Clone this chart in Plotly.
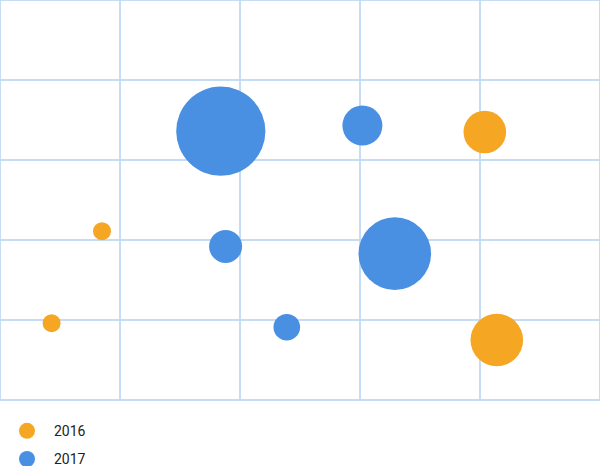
import plotly.graph_objects as go

# bubble data (x, y on a 0-5 grid, r = bubble radius)
x_2016 = [0.43, 0.85, 4.04, 4.14]
y_2016 = [0.96, 2.11, 3.35, 0.75]
r_2016 = [9, 9, 21.3, 26.3]

x_2017 = [1.84, 1.88, 2.39, 3.02, 3.29]
y_2017 = [3.36, 1.92, 0.91, 3.43, 1.83]
r_2017 = [44.6, 16.5, 13.3, 20, 36.3]

grid_color = "#c6dcf5"

fig = go.Figure()

fig.add_trace(go.Scatter(
    x=x_2016, y=y_2016, mode="markers", name="2016",
    legendgroup="a",
    marker=dict(size=r_2016, sizemode="diameter", sizeref=0.5,
                color="#f5a623", opacity=1, line=dict(width=0)),
))
fig.add_trace(go.Scatter(
    x=x_2017, y=y_2017, mode="markers", name="2017",
    legendgroup="b",
    marker=dict(size=r_2017, sizemode="diameter", sizeref=0.5,
                color="#4a90e2", opacity=1, line=dict(width=0)),
))

axis_style = dict(
    range=[0, 5], dtick=1, tick0=0,
    showgrid=True, gridcolor=grid_color, gridwidth=2,
    showline=False, zeroline=False, showticklabels=False, ticks="",
    fixedrange=True,
)

fig.update_xaxes(**axis_style)
fig.update_yaxes(**axis_style)

# outer frame of the plot area
fig.add_shape(type="rect", xref="paper", yref="paper", x0=0, y0=0, x1=1, y1=1,
              line=dict(color=grid_color, width=2), layer="below")

fig.update_layout(
    width=600, height=466,
    margin=dict(l=0, r=0, t=0, b=66, autoexpand=False),
    plot_bgcolor="white", paper_bgcolor="white",
    font=dict(family="Roboto", size=14, color="#222222"),
    legend=dict(
        orientation="v", x=0, y=-0.038, xanchor="left", yanchor="top",
        itemsizing="trace", itemwidth=44, tracegroupgap=7,
        maxheight=300,
    ),
)

fig.write_html("out.html", config={"displayModeBar": False},
               post_script="document.body.style.margin='0';")
